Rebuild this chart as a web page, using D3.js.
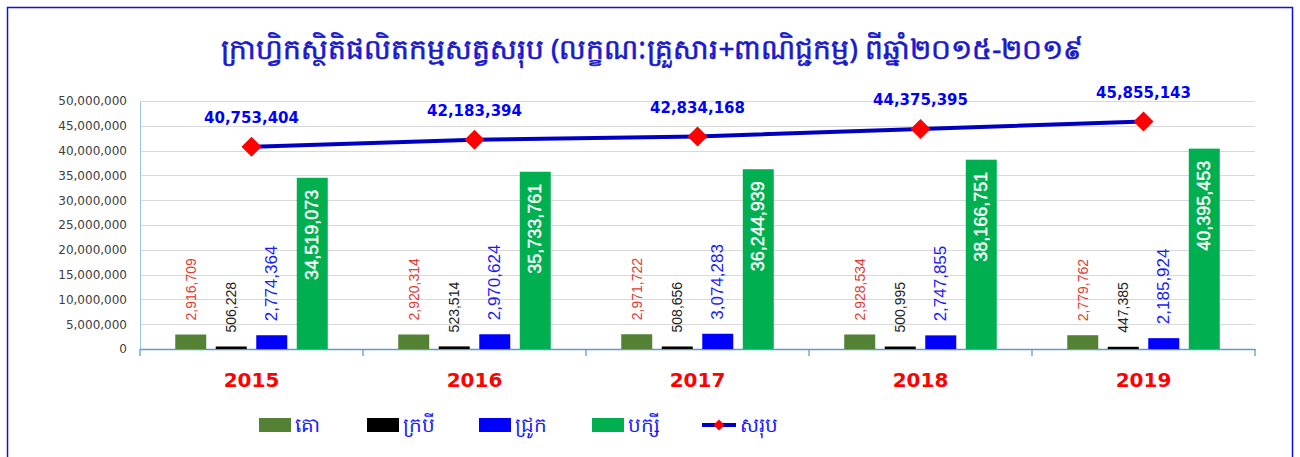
<!DOCTYPE html>
<html>
<head>
<meta charset="utf-8">
<script src="https://cdn.jsdelivr.net/npm/d3@7"></script>
<style>
  body { margin: 0; background: #fff; }
  svg { display: block; }
</style>
</head>
<body>
<div id="chart"></div>
<script>
const width = 1300,
    height = 457,
    margin = { top: 101, bottom: 108, left: 140, right: 45 };

// data
const years = ["2015", "2016", "2017", "2018", "2019"];
const series = ["គោ", "ក្របី", "ជ្រូក", "បក្សី"];
const cattle = [2916709, 2920314, 2971722, 2928534, 2779762];
const buffalo = [506228, 523514, 508656, 500995, 447385];
const pigs = [2774364, 2970624, 3074283, 2747855, 2185924];
const poultry = [34519073, 35733761, 36244939, 38166751, 40395453];
const totals = [40753404, 42183394, 42834168, 44375395, 45855143];
const yTicks = [0, 5000000, 10000000, 15000000, 20000000, 25000000, 30000000, 35000000, 40000000, 45000000, 50000000];
const titleText = "ក្រាហ្វិកស្ថិតិផលិតកម្មសត្វសរុប (លក្ខណៈគ្រួសារ+ពាណិជ្ជកម្ម) ពីឆ្នាំ២០១៥-២០១៩";
const totalName = "សរុប";

const colors = ["#548235", "#000000", "#0000ff", "#00b050"];
const labelColors = ["#e03c31", "#222222", "#1a1aff", "#ffffff"];
const seriesValues = [cattle, buffalo, pigs, poultry];

const fmt = d3.format(",");

const svg = d3.select("#chart")
    .append("svg")
    .attr("width", width)
    .attr("height", height);

// outer frame
svg.append("rect")
    .attr("x", 7.5).attr("y", 7.5)
    .attr("width", 1285).attr("height", 470)
    .attr("fill", "none")
    .attr("stroke", "#1010e0")
    .attr("stroke-width", 1.5);

// title
svg.append("text")
    .attr("x", 652).attr("y", 59)
    .attr("text-anchor", "middle")
    .style("font-family", "'Noto Sans', 'DejaVu Sans', sans-serif")
    .style("font-size", "28px")
    .style("fill", "#1a1acc")
    .style("stroke", "#1a1acc")
    .style("stroke-width", 0.6)
    .text(titleText);

const x = d3.scaleBand()
    .domain(years)
    .range([margin.left, width - margin.right]);

const x1 = d3.scaleBand()
    .domain(d3.range(series.length))
    .range([0, x.bandwidth()])
    .paddingInner(0.235)
    .paddingOuter(0.87);

const y = d3.scaleLinear()
    .domain([0, 50000000])
    .range([height - margin.bottom, margin.top]);

// grid
svg.append("g")
    .selectAll("line")
    .data(yTicks.slice(1))
    .join("line")
    .attr("x1", margin.left).attr("x2", width - margin.right)
    .attr("y1", d => Math.round(y(d)) + 0.5)
    .attr("y2", d => Math.round(y(d)) + 0.5)
    .attr("stroke", "#d9d9d9")
    .attr("stroke-width", 1.2);

// y axis
const yAxis = svg.append("g")
    .attr("transform", `translate(${margin.left},0)`)
    .call(d3.axisLeft(y).tickValues(yTicks).tickFormat(fmt).tickSize(0).tickPadding(13));
yAxis.select(".domain").attr("stroke", "#9dc3e6");
yAxis.selectAll("text")
    .style("font-family", "'DejaVu Sans', sans-serif")
    .style("font-size", "12px")
    .style("fill", "#404040");

// x axis
const xAxis = svg.append("g")
    .attr("transform", `translate(0,${y(0)})`)
    .call(d3.axisBottom(x).tickSize(0).tickPadding(24));
xAxis.select(".domain").attr("stroke", "#5b9bd5").attr("stroke-width", 1.3);
xAxis.selectAll("text")
    .style("font-family", "'DejaVu Sans', sans-serif")
    .style("font-size", "20px")
    .style("font-weight", "bold")
    .style("fill", "#ff0000");
svg.append("g")
    .selectAll("line")
    .data(years.map(d => x(d)).concat([width - margin.right]))
    .join("line")
    .attr("x1", d => d).attr("x2", d => d)
    .attr("y1", y(0)).attr("y2", y(0) + 7)
    .attr("stroke", "#5b9bd5")
    .attr("stroke-width", 1.3);

// bars
const groups = svg.append("g")
    .selectAll("g")
    .data(years)
    .join("g")
    .attr("transform", d => `translate(${x(d)},0)`);

groups.selectAll("rect")
    .data((d, i) => seriesValues.map((s, k) => ({ k, v: s[i] })))
    .join("rect")
    .attr("x", d => x1(d.k))
    .attr("width", x1.bandwidth())
    .attr("y", d => y(d.v))
    .attr("height", d => y(0) - y(d.v))
    .attr("fill", d => colors[d.k]);

const labelSizes = [14, 14, 17, 18];
groups.selectAll("text")
    .data((d, i) => seriesValues.map((s, k) => ({ k, v: s[i] })))
    .join("text")
    .attr("transform", d => {
        const cx = x1(d.k) + x1.bandwidth() / 2;
        const cy = d.k === 3 ? y(d.v) + 12 : y(d.v) - 14;
        return `translate(${cx},${cy}) rotate(-90)`;
    })
    .attr("text-anchor", d => d.k === 3 ? "end" : "start")
    .attr("dominant-baseline", "central")
    .style("font-family", "'Liberation Sans', Arial, sans-serif")
    .style("font-size", d => labelSizes[d.k] + "px")
    .style("fill", d => labelColors[d.k])
    .style("stroke", d => d.k === 3 ? "#ffffff" : "none")
    .style("stroke-width", 0.4)
    .text(d => fmt(d.v));

// total line
const cx = d => x(d) + x.bandwidth() / 2;
const line = d3.line()
    .x((d, i) => cx(years[i]))
    .y(d => y(d));

svg.append("path")
    .datum(totals)
    .attr("d", line)
    .attr("fill", "none")
    .attr("stroke", "#0000c0")
    .attr("stroke-width", 4);

svg.append("g")
    .selectAll("path")
    .data(totals)
    .join("path")
    .attr("d", d3.symbol(d3.symbolSquare, 200))
    .attr("transform", (d, i) => `translate(${cx(years[i])},${y(d)}) rotate(45)`)
    .attr("fill", "#ff0000");

svg.append("g")
    .selectAll("text")
    .data(totals)
    .join("text")
    .attr("x", (d, i) => cx(years[i]))
    .attr("y", d => y(d) - 24)
    .attr("text-anchor", "middle")
    .style("font-family", "'DejaVu Sans', sans-serif")
    .style("font-size", "15px")
    .style("font-weight", "bold")
    .style("fill", "#0000ff")
    .text(d => fmt(d));

// legend
const legendX = [259, 367, 479, 592];
const legend = svg.append("g");
series.forEach((s, k) => {
    legend.append("rect")
        .attr("x", legendX[k]).attr("y", 418)
        .attr("width", 32).attr("height", 14)
        .attr("fill", colors[k]);
    legend.append("text")
        .attr("x", legendX[k] + 36).attr("y", 432)
        .style("font-family", "'Noto Sans', 'DejaVu Sans', sans-serif")
        .style("font-size", "20px")
        .style("fill", "#1a1aff")
        .text(s);
});
legend.append("line")
    .attr("x1", 702).attr("x2", 736)
    .attr("y1", 425).attr("y2", 425)
    .attr("stroke", "#0000c0")
    .attr("stroke-width", 4);
legend.append("path")
    .attr("d", d3.symbol(d3.symbolSquare, 60))
    .attr("transform", "translate(719,425) rotate(45)")
    .attr("fill", "#ff0000");
legend.append("text")
    .attr("x", 740).attr("y", 432)
    .style("font-family", "'Noto Sans', 'DejaVu Sans', sans-serif")
    .style("font-size", "20px")
    .style("fill", "#1a1aff")
    .text(totalName);
</script>
</body>
</html>
